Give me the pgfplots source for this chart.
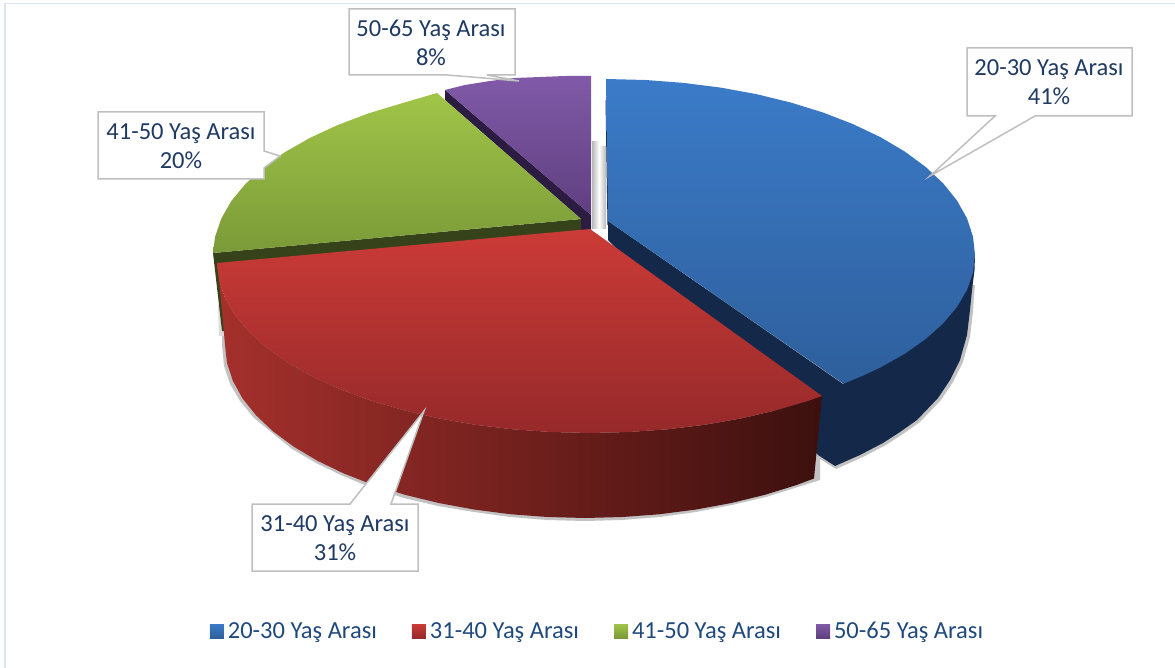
\documentclass[border=0pt]{standalone}
\usepackage{fontspec}
\setmainfont{Carlito}
\usepackage{pgfplots}
\pgfplotsset{compat=1.18}
\definecolor{lblue}{HTML}{1F3A63}
\definecolor{legtxt}{HTML}{1F497D}
\definecolor{frame}{HTML}{DCE6F2}
\definecolor{callout}{HTML}{BFBFBF}
\definecolor{wallblue}{HTML}{14294A}
\definecolor{bluetop}{RGB}{59,123,200}
\definecolor{bluebot}{RGB}{46,95,156}
\definecolor{redtop}{RGB}{203,59,55}
\definecolor{redbot}{RGB}{150,41,42}
\definecolor{greentop}{RGB}{160,197,72}
\definecolor{greenbot}{RGB}{122,154,56}
\definecolor{greenband}{RGB}{54,67,26}
\definecolor{purptop}{RGB}{128,90,168}
\definecolor{purpbot}{RGB}{95,63,128}
\definecolor{purpband}{RGB}{45,28,66}
\definecolor{wallL}{RGB}{165,48,44}
\definecolor{wallM}{RGB}{115,31,29}
\definecolor{wallR}{RGB}{60,16,14}
\begin{document}
\begin{tikzpicture}
\begin{axis}[
    at={(0pt,0pt)},
    anchor=south west,
    scale only axis,
    width=1175pt,
    height=668pt,
    xmin=0, xmax=1175,
    ymin=0, ymax=668,
    y dir=reverse,
    hide axis,
    clip=true,
    no markers,
    every axis plot/.append style={forget plot},
    legend columns=4,
    legend style={
        at={(axis cs:597.5,631)},
        anchor=center,
        draw=none,
        fill=none,
        font=\fontsize{24.5}{29}\selectfont\color{legtxt},
        /tikz/every even column/.append style={column sep=33pt},
        cells={anchor=west}
    },
    legend image code/.code={
        \path[#1] (0pt,-7pt) rectangle (14pt,7pt);
        \path (14pt,0pt) -- (16pt,0pt);
    },
]
% legend swatches
\addlegendimage{draw=none, top color=bluetop, bottom color=bluebot}
\addlegendentry{20-30 Yaş Arası}
\addlegendimage{draw=none, top color=redtop, bottom color=redbot}
\addlegendentry{31-40 Yaş Arası}
\addlegendimage{draw=none, top color=greentop, bottom color=greenbot}
\addlegendentry{41-50 Yaş Arası}
\addlegendimage{draw=none, top color=purptop, bottom color=purpbot}
\addlegendentry{50-65 Yaş Arası}

% frame lines
\addplot[frame, line width=1.5pt] coordinates {(5,668) (5,3.5) (1175,3.5)};

% grey shadow in the gap
\addplot[draw=none, left color=black!28, right color=white] coordinates {(592,142) (599,142) (599,229) (592,229)} -- cycle;
\addplot[draw=none, left color=white, right color=black!28] coordinates {(599,147) (606,147) (606,229) (599,229)} -- cycle;

% soft shadow under the walls
\addplot[draw=none, fill=black!24] coordinates {
 (975,285) (974,295) (973,312) (970,337) (963,362) (953,382) (941,400) (920,422) (903,434) (886,445) (863,457) (836,469)
 (820,459) (820,480) (798,487) (766,497) (732,505) (696,512) (660,517) (622,520) (585,521) (547,520) (510,517) (474,512) (438,506)
 (404,498) (372,488) (343,476) (316,463) (292,449) (254,418) (240,401) (230,384) (224,366) (222,345) (222,300)
} -- cycle;
\addplot[draw=none, fill=black!14] coordinates {(218,305) (226,305) (228,336) (219,336)} -- cycle;

% blue wall and cut face
\addplot[draw=none, fill=wallblue] coordinates {
 (608,221) (608,240) (818,455) (835,466) (860,455) (883,443) (900,432) (917,420) (938,398) (950,380) (960,360) (967,335)
 (970,310) (972,290) (974.5,270) (975,255) (843,384)
} -- cycle;
\addplot[wallblue, line width=1pt] coordinates {(606,100) (608,225)};
% blue top
\addplot[draw=none, top color=bluetop, bottom color=bluebot] coordinates {
 (606,79) (645.5,80) (683.5,82.9) (720.7,87.6) (756.7,94.2) (791,102.6) (823.3,112.6) (853.2,124.2) (880.5,137.2)
 (904.7,151.5) (925.7,167) (943.2,183.4) (957,200.6) (967,218.4) (973,236.6) (975,255)
 (973,272.6) (967,289.9) (957,306.9) (943.2,323.3) (925.7,339) (904.7,353.8) (880.5,367.4) (862.6,375.8) (843.5,383.7)
 (608,221)
} -- cycle;

% purple band and top
\addplot[draw=none, fill=purpband] coordinates {
 (445,90) (445,100) (581,219) (581,232) (591,232) (591,215)
} -- cycle;
\addplot[draw=none, top color=purptop, bottom color=purpbot] coordinates {
 (445,90) (465,85) (490,81) (515,78) (540,77) (565,76) (591,76) (591,215)
} -- cycle;

% green outer wall, band and top
\addplot[draw=none, fill=greenband] coordinates {(213,253) (222,331) (226,331) (218,262)} -- cycle;
\addplot[draw=none, fill=greenband] coordinates {(213,253) (581,219) (581,232) (217,265)} -- cycle;
\addplot[draw=none, top color=greentop, bottom color=greenbot] coordinates {
 (437,93) (401.5,103.4) (368.4,113.4) (337.8,125) (309.9,137.9) (285,152.1) (263.5,167.5) (245.6,183.8) (231.4,200.9)
 (221.3,218.6) (215.1,236.7) (213,253) (581,219)
} -- cycle;

% red wall
\addplot[draw=none, left color=wallL, middle color=wallM, right color=wallR] coordinates {
 (219,280.8) (225.2,298.3) (235.2,315.5) (249.3,332.1) (267,348) (288.2,362.9) (312.8,376.7) (340.4,389.3) (370.8,400.5)
 (403.5,410.2) (438.3,418.3) (474.7,424.7) (512.5,429.3) (551,432) (590,433) (629,432) (667.5,429.3) (705.3,424.7)
 (741.7,418.3) (776.5,410.2) (809.2,400.5) (822,396)
 (814,478.5) (796.6,485) (765,494.8) (731.4,503) (696.2,509.5) (659.8,514.2) (622.6,517) (585,518) (547.4,517) (510.2,514.2)
 (473.8,509.5) (438.6,503) (405,494.8) (373.4,485) (344.1,473.6) (317.5,460.8) (293.8,446.7) (273.2,431.5) (256.1,415.4)
 (242.6,398.5) (232.9,381) (227,363.1) (225,345) (222,310)
} -- cycle;
% red top
\addplot[draw=none, top color=redtop, bottom color=redbot] coordinates {
 (590,229) (822,396) (809.2,400.5) (776.5,410.2) (741.7,418.3) (705.3,424.7) (667.5,429.3) (629,432) (590,433) (551,432)
 (512.5,429.3) (474.7,424.7) (438.3,418.3) (403.5,410.2) (370.8,400.5) (340.4,389.3) (312.8,376.7) (288.2,362.9) (267,348)
 (249.3,332.1) (235.2,315.5) (225.2,298.3) (219,280.8) (217,263)
} -- cycle;

% callouts
\addplot[draw=callout, fill=white, line width=1.5pt] coordinates {(967,48) (1132,48) (1132,116) (1035,116) (930,176) (995,116) (967,116)} -- cycle;
\addplot[draw=callout, fill=white, line width=1.5pt] coordinates {(252,504) (350,504) (424,411) (391,504) (418,504) (418,571) (252,571)} -- cycle;
\addplot[draw=callout, fill=white, line width=1.5pt] coordinates {(98,112) (264,112) (264,151) (280,156) (264,168) (264,179) (98,179)} -- cycle;
\addplot[draw=callout, fill=white, line width=1.5pt] coordinates {(349,9) (515,9) (515,75) (487,75) (519,81) (447,75) (349,75)} -- cycle;

\node[align=center, text=lblue, font=\fontsize{24.5}{29}\selectfont] at (axis cs:1049,82) {20-30 Yaş Arası\\41\%};
\node[align=center, text=lblue, font=\fontsize{24.5}{29}\selectfont] at (axis cs:335,538) {31-40 Yaş Arası\\31\%};
\node[align=center, text=lblue, font=\fontsize{24.5}{29}\selectfont] at (axis cs:181,146) {41-50 Yaş Arası\\20\%};
\node[align=center, text=lblue, font=\fontsize{24.5}{29}\selectfont] at (axis cs:431,43) {50-65 Yaş Arası\\8\%};
\end{axis}
\pgfresetboundingbox
\path[use as bounding box] (0pt,0pt) rectangle (1175pt,668pt);
\end{tikzpicture}
\end{document}
